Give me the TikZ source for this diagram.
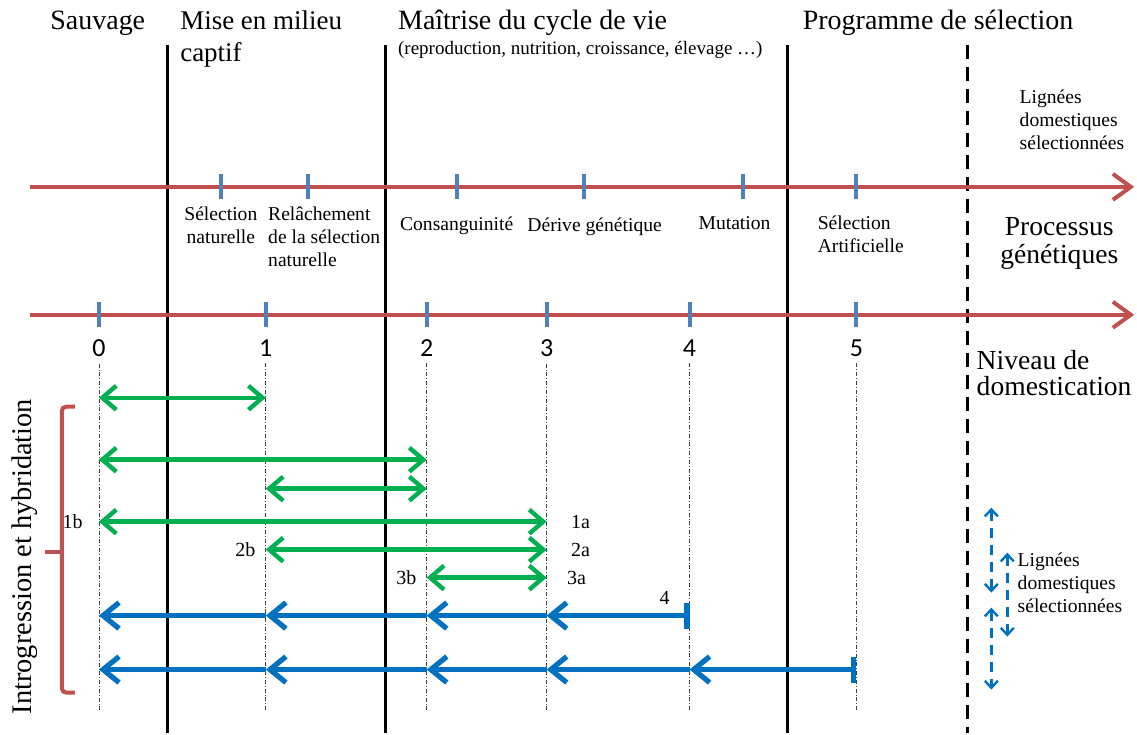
\documentclass[tikz,border=0pt]{standalone}
\usepackage{fontspec}
\setmainfont{Liberation Serif}
\newfontfamily\numfont{Carlito}
\usetikzlibrary{positioning,arrows.meta}
\definecolor{axred}{HTML}{C0504D}
\definecolor{tickblue}{HTML}{4F81BD}
\definecolor{arrgreen}{HTML}{00B050}
\definecolor{arrblue}{HTML}{0070C0}

\begin{document}
\begin{tikzpicture}[x=0.5pt, y=-0.5pt, node distance=6pt]
% Definition of styles:
\tikzset{%
  axis/.style     = {draw=axred, line width=2pt, arrows={-Straight Barb[length=9pt, width=13pt]}},
  tickmark/.style = {fill=tickblue, rectangle, inner sep=0pt, minimum width=2pt, minimum height=12.5pt},
  sep/.style      = {draw=black, line width=1.5pt}, % phase limits
  sepdash/.style  = {draw=black, line width=1.5pt, dash pattern=on 7pt off 4pt},
  guide/.style    = {draw=black!75, line width=0.4pt, dash pattern=on 2pt off 1pt on 0.4pt off 1pt},
  garrow/.style   = {draw=arrgreen, line width=2.2pt, arrows={Straight Barb[length=7pt, width=12pt]-Straight Barb[length=7pt, width=12pt]}},
  barrow/.style   = {draw=arrblue, line width=2.6pt, arrows={-Straight Barb[length=8pt, width=13pt]}},
  bstart/.style   = {arrows={Bar[width=13pt]-Straight Barb[length=8pt, width=13pt]}},
  dblarrow/.style = {draw=arrblue, line width=1.2pt, dash pattern=on 5pt off 3.5pt, arrows={Straight Barb[length=3.5pt, width=6.5pt]-Straight Barb[length=3.5pt, width=6.5pt]}},
  bracket/.style  = {draw=axred, line width=2pt, rounded corners=2pt},
  head/.style     = {anchor=base west, inner sep=0pt, font=\fontsize{14}{16}\selectfont},
  proc/.style     = {inner sep=0pt, align=center, font=\fontsize{9.8}{11.5}\selectfont},
  side/.style     = {inner sep=0pt, font=\fontsize{13.8}{14}\selectfont},
  num/.style      = {inner sep=0pt, font=\numfont\fontsize{13}{15}\selectfont},
  rowlbl/.style   = {inner sep=0pt, font=\fontsize{10}{12}\selectfont},
  small/.style    = {inner sep=0pt, align=left, anchor=north west, font=\fontsize{9.8}{11.5}\selectfont}
}

% headings
\node[head] (sauv) at (50,30) {Sauvage};
\node[head, font=\fontsize{13.5}{16}\selectfont] (mise) at (180,30) {Mise en milieu};
\node[head, font=\fontsize{13.5}{16}\selectfont] (capt) at (180,62) {captif};
\node[head] (maitr) at (398,30) {Maîtrise du cycle de vie};
\node[head, font=\fontsize{9.5}{11}\selectfont] (repro) at (398,55) {(reproduction, nutrition, croissance, élevage …)};
\node[head] (prog) at (803,30) {Programme de sélection};

% phase limits
\coordinate (v1t) at (168,45);  \coordinate (v1b) at (168,733);
\coordinate (v2t) at (386,45);  \coordinate (v2b) at (386,733);
\coordinate (v3t) at (788,45);  \coordinate (v3b) at (788,733);
\coordinate (v4t) at (968,45);  \coordinate (v4b) at (968,733);
\draw[sep] (v1t) -- (v1b);
\draw[sep] (v2t) -- (v2b);
\draw[sep] (v3t) -- (v3b);
\draw[sepdash] (v4t) -- (v4b);

% genetic processes axis
\coordinate (pa) at (30,187);
\coordinate (pb) at (1135,187);
\draw[axis] (pa) -- (pb);
\foreach \i/\x in {1/221,2/308,3/457,4/584,5/743,6/857}
  \node[tickmark] (t\i) at (\x,187) {};

\node[proc, below=3.5pt of t1] (sn) {Sélection\\naturelle};
\node[proc, align=left, anchor=north west] (rsn) at (268,207) {Relâchement\\de la sélection\\naturelle};
\node[proc, below=8.5pt of t3] (cons) {Consanguinité};
\node[proc, below=9pt of t4, xshift=5.5pt] (dg) {Dérive génétique};
\node[proc, below=8pt of t5, xshift=-4pt] (mut) {Mutation};
\node[proc, align=left, anchor=north west] (sa) at (818,216) {Sélection\\Artificielle};

% domestication level axis
\coordinate (da) at (30,315);
\coordinate (db) at (1135,315);
\draw[axis] (da) -- (db);
\foreach \i/\x in {0/99,1/266,2/427,3/547,4/690,5/857} {
  \node[tickmark] (n\i) at (\x,315) {};
  \node[num, below=6pt of n\i] (l\i) {\i};
  \coordinate (g\i) at (\x,712);
  \draw[guide] (l\i.south) ++(0,6) coordinate (gt\i) -- (g\i);
}

% right labels
\node[small] (ldsa) at (1020,90) {Lignées\\domestiques\\sélectionnées};
\node[side, align=center, anchor=north] (pg) at (1060,217) {Processus\\génétiques};
\node[side, align=left, anchor=north west, font=\fontsize{13.8}{13}\selectfont] (nd) at (977,350) {Niveau de\\domestication};

% rows of arrows
\foreach \r/\y in {a/398,b/460,c/489,d/522,e/550,f/578,g/616,h/670}
  \foreach \n/\x in {0/99,1/266,2/427,3/547,4/690,5/857}
    \coordinate (\r\n) at (\x,\y);

\draw[garrow] (a0) -- (a1);
\draw[garrow] (b0) -- (b2);
\draw[garrow] (c1) -- (c2);
\draw[garrow] (d0) -- (d3);
\draw[garrow] (e1) -- (e3);
\draw[garrow] (f2) -- (f3);
\node[rowlbl, left=8pt of d0] (r1b) {1b};
\node[rowlbl, right=12pt of d3] (r1a) {1a};
\node[rowlbl, left=5pt of e1] (r2b) {2b};
\node[rowlbl, right=12pt of e3] (r2a) {2a};
\node[rowlbl, left=5pt of f2] (r3b) {3b};
\node[rowlbl, right=10pt of f3] (r3a) {3a};

\draw[barrow, bstart] (g4) -- (g3);
\draw[barrow] (g3) -- (g2);
\draw[barrow] (g2) -- (g1);
\draw[barrow] (g1) -- (g0);
\node[rowlbl] (r4) at (665,598) {4};

\draw[barrow, bstart] (h5) -- (h4);
\draw[barrow] (h4) -- (h3);
\draw[barrow] (h3) -- (h2);
\draw[barrow] (h2) -- (h1);
\draw[barrow] (h1) -- (h0);

% introgression bracket
\draw[bracket] (75,407) -- (62,407) -- (62,693) -- (75,693);
\draw[bracket] (62,552) -- (45,552);
\node[rotate=90, inner sep=0pt, font=\fontsize{14.2}{16}\selectfont] (intro) at (25,557) {Introgression et hybridation};

% selected lines
\coordinate (u1s) at (992,508); \coordinate (u1e) at (992,593);
\coordinate (u2s) at (992,608); \coordinate (u2e) at (992,690);
\coordinate (u3s) at (1008,553); \coordinate (u3e) at (1008,637);
\draw[dblarrow] (u1s) -- (u1e);
\draw[dblarrow] (u2s) -- (u2e);
\draw[dblarrow] (u3s) -- (u3e);
\node[small] (ldsb) at (1018,553) {Lignées\\domestiques\\sélectionnées};

\useasboundingbox (0,0) rectangle (1137,733);
\end{tikzpicture}
\end{document}
